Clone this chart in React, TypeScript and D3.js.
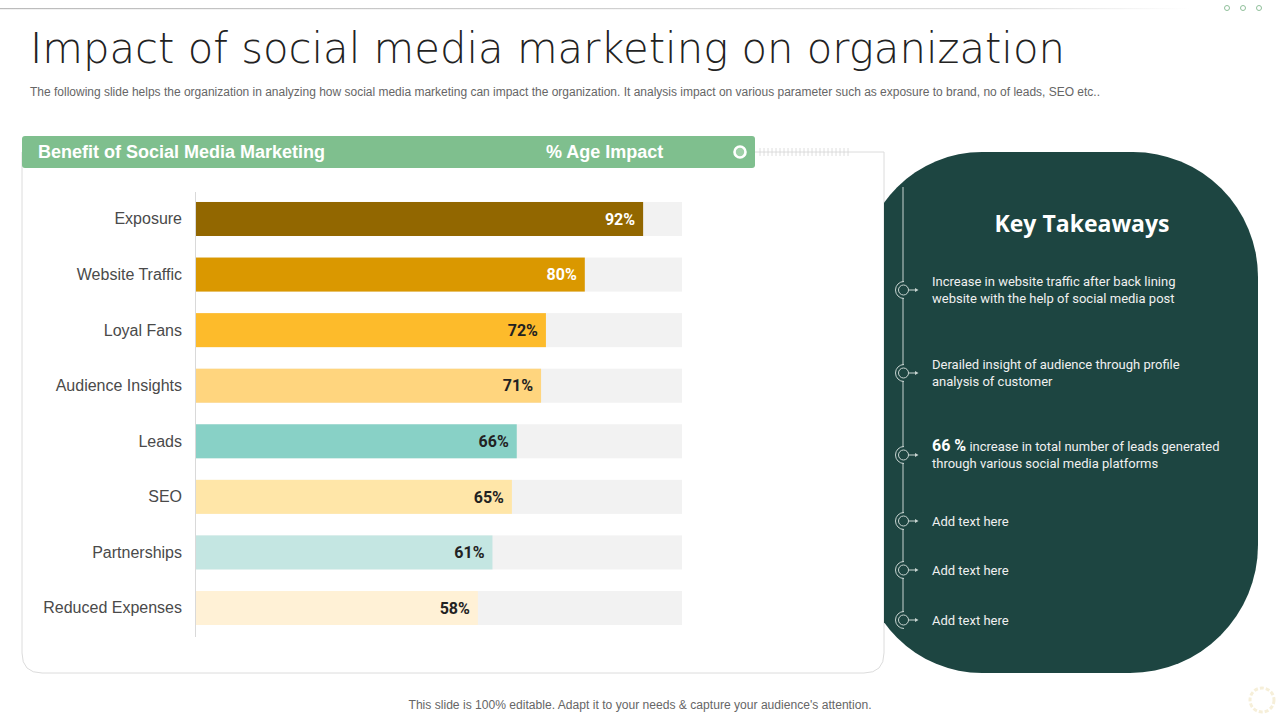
import React from 'react';
import * as d3 from 'd3';

const categories = ['Exposure', 'Website Traffic', 'Loyal Fans', 'Audience Insights', 'Leads', 'SEO', 'Partnerships', 'Reduced Expenses'];
const impact = [92, 80, 72, 71, 66, 65, 61, 58];
const barColors = ['#926700', '#DA9800', '#FDBB2B', '#FFD57E', '#88D1C6', '#FFE6A8', '#C4E6E2', '#FFF1D6'];
const labelColors = ['#ffffff', '#ffffff', '#222222', '#222222', '#222222', '#222222', '#222222', '#222222'];

const takeaways = [
  ['Increase in website traffic after back lining', 'website with the help of social media post'],
  ['Derailed insight of audience through  profile', 'analysis of customer'],
  ['66 %|increase in total number  of leads generated', 'through various  social media platforms'],
  ['Add text here'],
  ['Add text here'],
  ['Add text here'],
];
const takeawayY = [290, 373, 455, 521, 570, 620];

const W = 1280;
const H = 720;

// dark panel, each corner with its own radius
function panelPath(x0: number, y0: number, x1: number, y1: number, tl: number, tr: number, br: number, bl: number) {
  return [
    `M${x0 + tl},${y0}`,
    `L${x1 - tr},${y0}`,
    `A${tr},${tr} 0 0 1 ${x1},${y0 + tr}`,
    `L${x1},${y1 - br}`,
    `A${br},${br} 0 0 1 ${x1 - br},${y1}`,
    `L${x0 + bl},${y1}`,
    `A${bl},${bl} 0 0 1 ${x0},${y1 - bl}`,
    `L${x0},${y0 + tl}`,
    `A${tl},${tl} 0 0 1 ${x0 + tl},${y0}`,
    'Z',
  ].join(' ');
}

const App: React.FC = () => {
  const x = d3.scaleLinear().domain([0, 100]).range([196, 682]);
  const y = d3.scaleBand<string>().domain(categories).range([191.2, 635.8]).paddingInner(0.388).paddingOuter(0.194);

  const ticks = d3.range(760, 850, 4);

  return (
    <svg width={W} height={H} style={{ position: 'absolute', left: 0, top: 0, background: '#fff' }}>
      <defs>
        <linearGradient id="topline" x1="0" x2="1" y1="0" y2="0">
          <stop offset="0" stopColor="#bbbbbb" />
          <stop offset="0.85" stopColor="#dddddd" />
          <stop offset="1" stopColor="#ffffff" />
        </linearGradient>
        <clipPath id="panelClip">
          <rect x={884} y={0} width={400} height={720} />
        </clipPath>
      </defs>
      <rect x={0} y={0} width={W} height={H} fill="#fff" />
      <rect x={0} y={8} width={1190} height={1.2} fill="url(#topline)" />
      {[1227, 1243, 1259].map((cx) => (
        <circle key={cx} cx={cx} cy={8} r={2.5} fill="none" stroke="#8fbf9a" strokeWidth={1} />
      ))}

      <text x={30} y={63} fontFamily="'DejaVu Sans', Lato, sans-serif" fontWeight={200} fontSize={43} fill="#222" textLength={1035} lengthAdjust="spacingAndGlyphs">
        Impact of social media marketing on organization
      </text>
      <text x={30} y={96} fontFamily="'Liberation Sans Narrow', 'Liberation Sans', sans-serif" fontSize={12} fill="#666" textLength={1070} lengthAdjust="spacingAndGlyphs">
        The following slide helps the organization in analyzing how social media marketing can impact the organization. It analysis impact on various parameter such as exposure to brand, no of leads, SEO etc..
      </text>

      {/* card */}
      <path d="M22,152 L884,152 L884,653 Q884,673 864,673 L42,673 Q22,673 22,653 Z" fill="#fff" stroke="#dcdcdc" strokeWidth={1} />
      <rect x={22} y={136} width={733} height={32} rx={3} fill="#7FBF8E" />
      <text x={38} y={158} fontFamily="'Liberation Sans', Arial, sans-serif" fontWeight="bold" fontSize={18} fill="#fff">Benefit of Social Media Marketing</text>
      <text x={546} y={158} fontFamily="'Liberation Sans', Arial, sans-serif" fontWeight="bold" fontSize={18} fill="#fff">% Age Impact</text>
      <circle cx={740} cy={152} r={5.5} fill="#9fd0a8" stroke="#fff" strokeWidth={2.6} />
      {ticks.map((t) => (
        <line key={t} x1={t} x2={t} y1={148} y2={156} stroke="#d5d5d5" strokeWidth={0.8} />
      ))}

      {/* axis line */}
      <line x1={195.5} x2={195.5} y1={192} y2={637} stroke="#d9d9d9" strokeWidth={1} />

      {categories.map((c, i) => {
        const by = y(c) as number;
        const bh = y.bandwidth();
        return (
          <g key={c}>
            <rect x={x(0)} y={by} width={x(100) - x(0)} height={bh} fill="#F2F2F2" />
            <rect x={x(0)} y={by} width={x(impact[i]) - x(0)} height={bh} fill={barColors[i]} />
            <text x={x(impact[i]) - 8} y={by + bh / 2} dy="0.36em" textAnchor="end" fontFamily="Roboto, sans-serif" fontWeight="bold" fontSize={16} fill={labelColors[i]}>
              {impact[i]}%
            </text>
            <text x={182} y={by + bh / 2} dy="0.34em" textAnchor="end" fontFamily="'Liberation Sans', Arial, sans-serif" fontSize={16} fill="#4a4a4a">
              {c}
            </text>
          </g>
        );
      })}

      {/* takeaways panel, left side tucked behind the card edge */}
      <path d={panelPath(862, 152, 1258, 673, 120, 125, 128, 120)} fill="#1D4541" clipPath="url(#panelClip)" />
      <text x={1082} y={232} textAnchor="middle" fontFamily="'Open Sans', 'DejaVu Sans', sans-serif" fontWeight="bold" fontSize={23} fill="#fff">Key Takeaways</text>
      <line x1={903} x2={903} y1={187} y2={628} stroke="#c8d4d1" strokeWidth={1} />
      {takeaways.map((lines, i) => {
        const cy = takeawayY[i];
        const n = lines.length;
        return (
          <g key={i}>
            <circle cx={903} cy={cy} r={8} fill="#1D4541" stroke="none" />
            <path d={`M ${903 + 1} ${cy - 8.5} A 8.5 8.5 0 0 0 ${903 + 1} ${cy + 8.5}`} fill="none" stroke="#c8d4d1" strokeWidth={1} />
            <circle cx={903.5} cy={cy} r={5} fill="#1D4541" stroke="#c8d4d1" strokeWidth={1} />
            <line x1={908.5} x2={917} y1={cy} y2={cy} stroke="#c8d4d1" strokeWidth={1} />
            <path d={`M 915 ${cy - 2} L 918.5 ${cy} L 915 ${cy + 2} Z`} fill="#c8d4d1" />
            {lines.map((ln, j) => {
              const ty = cy + (j - (n - 1) / 2) * 16.5;
              if (ln.includes('|')) {
                const [b, rest] = ln.split('|');
                return (
                  <text key={j} x={932} y={ty} dy="0.35em" fontFamily="Roboto, sans-serif" fontSize={13} fill="#f0f0f0">
                    <tspan fontWeight="bold" fontSize={16} fill="#fff">{b}</tspan>
                    <tspan> {rest}</tspan>
                  </text>
                );
              }
              return (
                <text key={j} x={932} y={ty} dy="0.35em" fontFamily="Roboto, sans-serif" fontSize={13} fill="#f0f0f0">
                  {ln}
                </text>
              );
            })}
          </g>
        );
      })}

      <text x={640} y={709} textAnchor="middle" fontFamily="'Liberation Sans Narrow', 'Liberation Sans', sans-serif" fontSize={12} fill="#666" textLength={463} lengthAdjust="spacingAndGlyphs">
        This slide is 100% editable. Adapt it to your needs &amp; capture your audience's attention.
      </text>
      <circle cx={1262} cy={700} r={12} fill="none" stroke="#f6efd9" strokeWidth={3} strokeDasharray="4 2" />
    </svg>
  );
};

export default App;
